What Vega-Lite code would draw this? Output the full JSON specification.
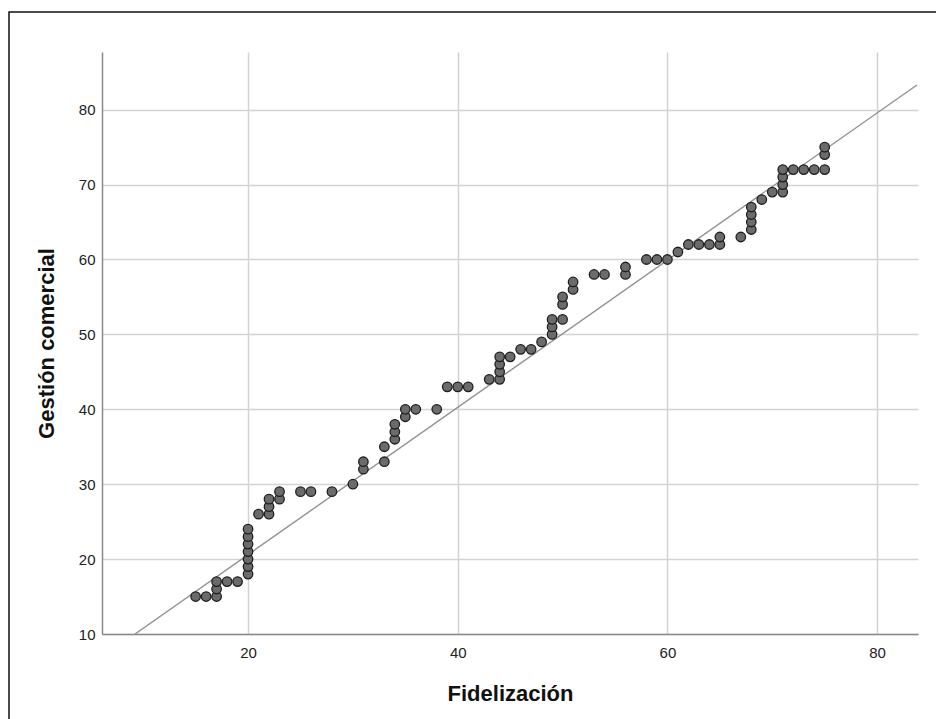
{
  "$schema": "https://vega.github.io/schema/vega-lite/v6.json",
  "width": 816,
  "height": 582,
  "autosize": {"type": "none"},
  "padding": {"left": 102, "top": 52, "right": 18, "bottom": 85},
  "background": "white",
  "config": {
    "view": {"stroke": null},
    "font": "Liberation Sans",
    "axis": {
      "grid": true,
      "ticks": false, "tickSize": 0,
      "domainColor": "#8a8a8a", "domainWidth": 1.5,
      "gridColor": "#d3d3d3", "gridWidth": 1.5,
      "labelFontSize": 15, "labelColor": "#222222",
      "titleFontSize": 22, "titleFontWeight": "bold", "titleColor": "#111111"
    },
    "axisX": {"labelPadding": 11, "titlePadding": 23},
    "axisY": {"labelPadding": 7, "titlePadding": 20}
  },
  "datasets": {
    "casos": [
      {"fidelizacion": 15, "gestion": 15}, {"fidelizacion": 16, "gestion": 15}, {"fidelizacion": 17, "gestion": 15},
      {"fidelizacion": 17, "gestion": 16}, {"fidelizacion": 17, "gestion": 17}, {"fidelizacion": 18, "gestion": 17},
      {"fidelizacion": 19, "gestion": 17},
      {"fidelizacion": 20, "gestion": 18}, {"fidelizacion": 20, "gestion": 19}, {"fidelizacion": 20, "gestion": 20},
      {"fidelizacion": 20, "gestion": 21}, {"fidelizacion": 20, "gestion": 22}, {"fidelizacion": 20, "gestion": 23},
      {"fidelizacion": 20, "gestion": 24},
      {"fidelizacion": 21, "gestion": 26}, {"fidelizacion": 22, "gestion": 26}, {"fidelizacion": 22, "gestion": 27},
      {"fidelizacion": 22, "gestion": 28}, {"fidelizacion": 23, "gestion": 28}, {"fidelizacion": 23, "gestion": 29},
      {"fidelizacion": 25, "gestion": 29}, {"fidelizacion": 26, "gestion": 29}, {"fidelizacion": 28, "gestion": 29},
      {"fidelizacion": 30, "gestion": 30}, {"fidelizacion": 31, "gestion": 32}, {"fidelizacion": 31, "gestion": 33},
      {"fidelizacion": 33, "gestion": 33}, {"fidelizacion": 33, "gestion": 35},
      {"fidelizacion": 34, "gestion": 36}, {"fidelizacion": 34, "gestion": 37}, {"fidelizacion": 34, "gestion": 38},
      {"fidelizacion": 35, "gestion": 39}, {"fidelizacion": 35, "gestion": 40}, {"fidelizacion": 36, "gestion": 40},
      {"fidelizacion": 38, "gestion": 40},
      {"fidelizacion": 39, "gestion": 43}, {"fidelizacion": 40, "gestion": 43}, {"fidelizacion": 41, "gestion": 43},
      {"fidelizacion": 43, "gestion": 44}, {"fidelizacion": 44, "gestion": 44}, {"fidelizacion": 44, "gestion": 45},
      {"fidelizacion": 44, "gestion": 46}, {"fidelizacion": 44, "gestion": 47}, {"fidelizacion": 45, "gestion": 47},
      {"fidelizacion": 46, "gestion": 48}, {"fidelizacion": 47, "gestion": 48}, {"fidelizacion": 48, "gestion": 49},
      {"fidelizacion": 49, "gestion": 50}, {"fidelizacion": 49, "gestion": 51}, {"fidelizacion": 49, "gestion": 52},
      {"fidelizacion": 50, "gestion": 52}, {"fidelizacion": 50, "gestion": 54}, {"fidelizacion": 50, "gestion": 55},
      {"fidelizacion": 51, "gestion": 56}, {"fidelizacion": 51, "gestion": 57},
      {"fidelizacion": 53, "gestion": 58}, {"fidelizacion": 54, "gestion": 58}, {"fidelizacion": 56, "gestion": 58},
      {"fidelizacion": 56, "gestion": 59}, {"fidelizacion": 58, "gestion": 60}, {"fidelizacion": 59, "gestion": 60},
      {"fidelizacion": 60, "gestion": 60}, {"fidelizacion": 61, "gestion": 61},
      {"fidelizacion": 62, "gestion": 62}, {"fidelizacion": 63, "gestion": 62}, {"fidelizacion": 64, "gestion": 62},
      {"fidelizacion": 65, "gestion": 62}, {"fidelizacion": 65, "gestion": 63}, {"fidelizacion": 67, "gestion": 63},
      {"fidelizacion": 68, "gestion": 64}, {"fidelizacion": 68, "gestion": 65}, {"fidelizacion": 68, "gestion": 66},
      {"fidelizacion": 68, "gestion": 67}, {"fidelizacion": 69, "gestion": 68}, {"fidelizacion": 70, "gestion": 69},
      {"fidelizacion": 71, "gestion": 69}, {"fidelizacion": 71, "gestion": 70}, {"fidelizacion": 71, "gestion": 71},
      {"fidelizacion": 71, "gestion": 72},
      {"fidelizacion": 72, "gestion": 72}, {"fidelizacion": 73, "gestion": 72}, {"fidelizacion": 74, "gestion": 72},
      {"fidelizacion": 75, "gestion": 72}, {"fidelizacion": 75, "gestion": 74}, {"fidelizacion": 75, "gestion": 75}
    ],
    "recta": [
      {"fidelizacion": 9.22, "gestion": 10},
      {"fidelizacion": 83.8, "gestion": 83.3}
    ]
  },
  "layer": [
    {
      "description": "Outer frame of the figure, placed in axis units beyond the plot",
      "data": {"values": [{}]},
      "mark": {"type": "rect", "fillOpacity": 0, "stroke": "#111111", "strokeWidth": 1.5, "clip": false},
      "encoding": {
        "x": {"datum": -2.8, "type": "quantitative", "title": "Fidelización",
              "scale": {"domain": [6.07, 83.9], "nice": false, "zero": false},
              "axis": {"values": [20, 40, 60, 80], "grid": true}},
        "x2": {"datum": 87},
        "y": {"datum": 93.04, "type": "quantitative", "title": "Gestión comercial",
              "scale": {"domain": [10, 87.7], "nice": false, "zero": false},
              "axis": {"values": [10, 20, 30, 40, 50, 60, 70, 80], "grid": true}},
        "y2": {"datum": -3}
      }
    },
    {
      "description": "Fit line",
      "data": {"name": "recta"},
      "mark": {"type": "line", "color": "#929292", "strokeWidth": 1.4, "clip": true},
      "encoding": {
        "x": {"field": "fidelizacion", "type": "quantitative", "title": "Fidelización",
              "axis": {"values": [20, 40, 60, 80], "grid": true}},
        "y": {"field": "gestion", "type": "quantitative", "title": "Gestión comercial",
              "axis": {"values": [10, 20, 30, 40, 50, 60, 70, 80], "grid": true}}
      }
    },
    {
      "data": {"name": "casos"},
      "mark": {"type": "point", "shape": "circle", "filled": true, "size": 90, "fill": "#6b6b6b", "stroke": "#1f1f1f", "strokeWidth": 1.3, "opacity": 1},
      "encoding": {
        "x": {"field": "fidelizacion", "type": "quantitative", "title": "Fidelización",
              "axis": {"values": [20, 40, 60, 80], "grid": true}},
        "y": {"field": "gestion", "type": "quantitative", "title": "Gestión comercial",
              "axis": {"values": [10, 20, 30, 40, 50, 60, 70, 80], "grid": true}}
      }
    }
  ]
}
